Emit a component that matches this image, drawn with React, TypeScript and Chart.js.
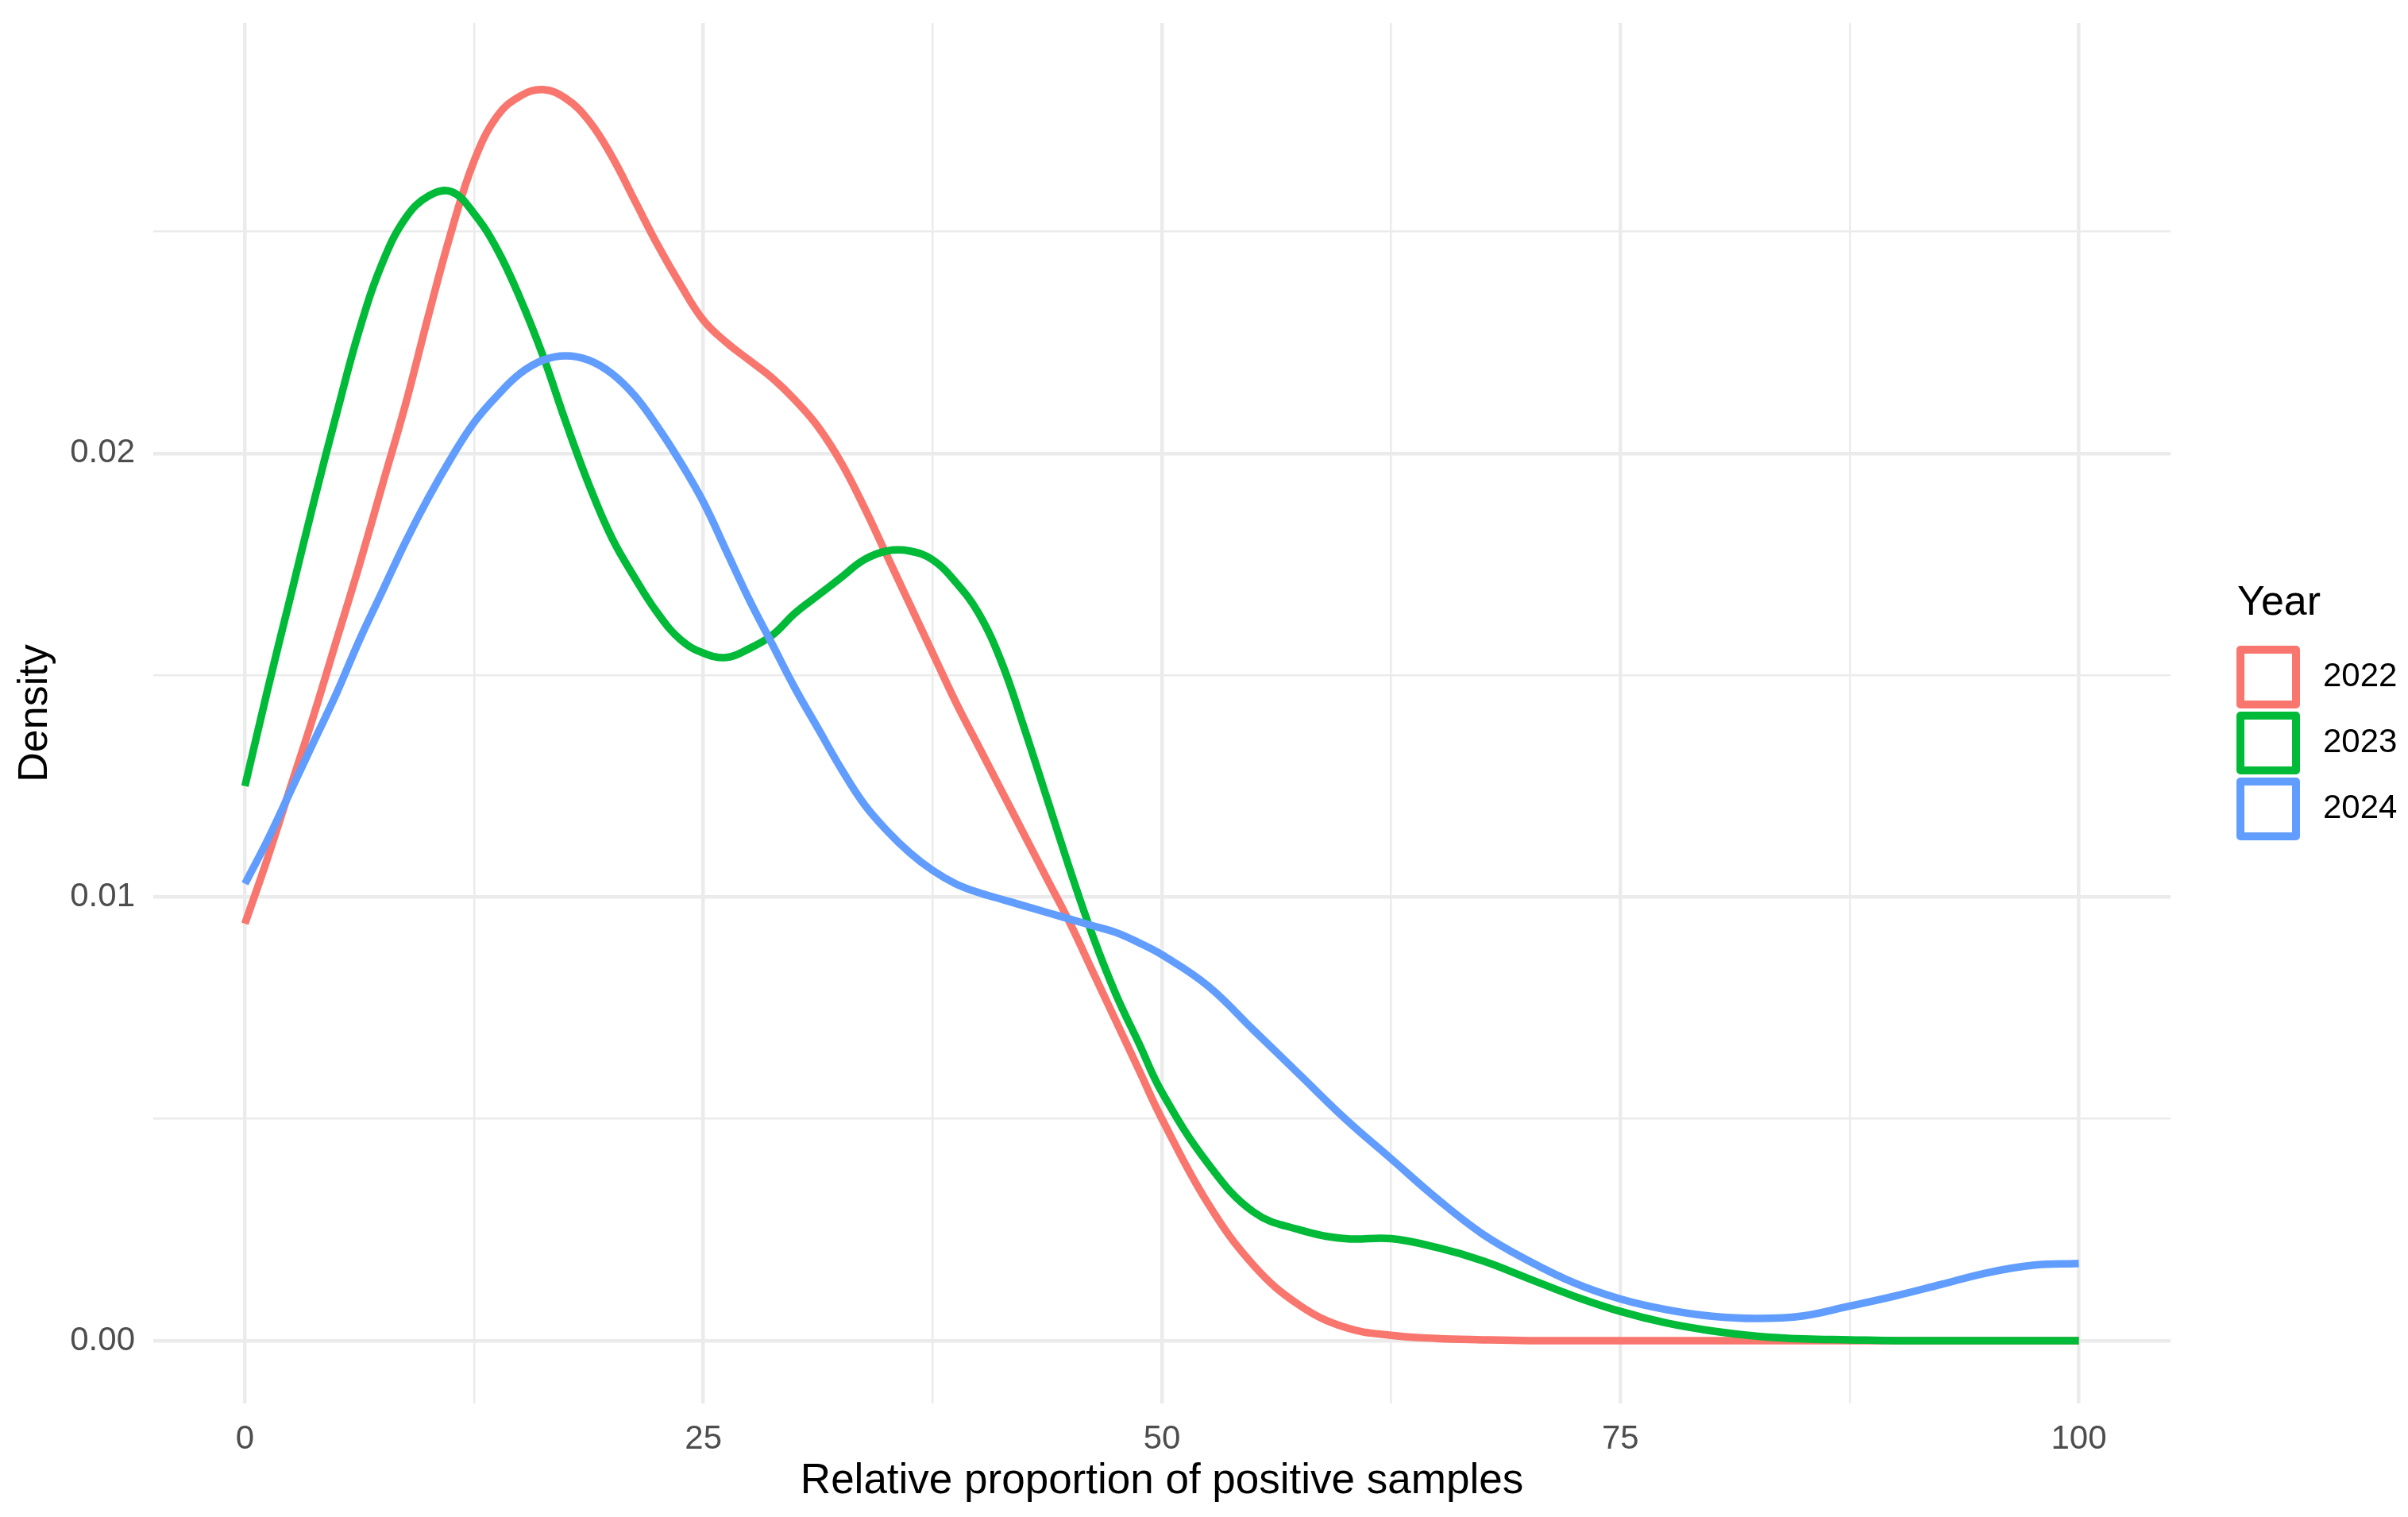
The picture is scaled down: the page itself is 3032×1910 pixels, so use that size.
import { useEffect, useRef } from "react"
import { Chart, registerables } from "chart.js"

Chart.register(...registerables)

// x positions (relative proportion of positive samples, %): finer steps where the curves bend most
const X_VALUES = [
  0, 1.25, 2.5, 3.75, 5, 6.25, 7.5, 8.75, 10, 11.25, 12.5, 13.75, 15, 16.25, 17.5, 18.75, 20, 21.25, 22.5,
  23.75, 25, 26.25, 27.5, 28.75, 30, 31.25, 32.5, 33.75, 35, 36.25, 37.5, 38.75, 40, 41.25, 42.5, 43.75,
  45, 46.25, 47.5, 48.75, 50,
  52.5, 55, 57.5, 60, 62.5, 65, 67.5, 70, 72.5, 75, 77.5, 80, 82.5, 85, 87.5, 90, 92.5, 95, 97.5, 100,
]

// density values
const DENSITY_2022 = [
  0.0094, 0.0109, 0.0125, 0.0141, 0.0158, 0.0175, 0.0193, 0.0211, 0.0231, 0.025, 0.0266, 0.0276, 0.02805,
  0.0282, 0.028, 0.0275, 0.0267, 0.0257, 0.0247, 0.0238, 0.023, 0.0225, 0.0221, 0.0217, 0.0212, 0.0206,
  0.0198, 0.0188, 0.0177, 0.0166, 0.0155, 0.0144, 0.0134, 0.0124, 0.0114, 0.0104, 0.0094, 0.0083, 0.0072,
  0.0061, 0.005,
  0.0031, 0.0017, 0.0008, 0.0003, 0.00012, 0.00005, 0.00002, 0, 0, 0, 0, 0, 0, 0, 0, 0, 0, 0, 0, 0,
]
const DENSITY_2023 = [
  0.0125, 0.0147, 0.0168, 0.0189, 0.0209, 0.0228, 0.0243, 0.0253, 0.0258, 0.0259, 0.0254, 0.0246, 0.0235,
  0.0222, 0.0207, 0.0193, 0.0181, 0.0172, 0.0164, 0.0158, 0.0155, 0.0154, 0.0156, 0.0159, 0.0164, 0.0168,
  0.0172, 0.0176, 0.0178, 0.0178, 0.0176, 0.0171, 0.0164, 0.0153, 0.0138, 0.0122, 0.0106, 0.0091, 0.0078,
  0.0067, 0.0056,
  0.004, 0.0029, 0.0025, 0.0023, 0.0023, 0.0021, 0.0018, 0.0014, 0.001, 0.00066, 0.0004, 0.00022, 0.0001,
  0.00004, 0.00002, 0, 0, 0, 0, 0,
]
const DENSITY_2024 = [
  0.0103, 0.0113, 0.0124, 0.0135, 0.0146, 0.0158, 0.0169, 0.018, 0.019, 0.0199, 0.0207, 0.0213, 0.0218,
  0.0221, 0.0222, 0.0221, 0.0218, 0.0213, 0.0206, 0.0198, 0.0189, 0.0178, 0.0167, 0.0157, 0.0147, 0.0138,
  0.0129, 0.0121, 0.0115, 0.011, 0.0106, 0.0103, 0.0101, 0.00995, 0.0098, 0.00965, 0.0095, 0.00935, 0.0092,
  0.00897, 0.0087,
  0.008, 0.007, 0.006, 0.005, 0.0041, 0.0032, 0.0024, 0.0018, 0.0013, 0.00094, 0.0007, 0.00055, 0.0005,
  0.00056, 0.00078, 0.00101, 0.00127, 0.00153, 0.0017, 0.00174,
]

const YEARS = ["2022", "2023", "2024"]
const COLORS = ["#F8766D", "#00BA38", "#619CFF"]

const X_GRID = [0, 12.5, 25, 37.5, 50, 62.5, 75, 87.5, 100]
const X_MAJOR = [0, 25, 50, 75, 100]
const X_TICK_LABELS = ["0", "25", "50", "75", "100"]
const Y_GRID = [0, 0.005, 0.01, 0.015, 0.02, 0.025]
const Y_MAJOR = [0, 0.01, 0.02]
const Y_TICK_LABELS = ["0.00", "0.01", "0.02"]

const FONT = "'Liberation Sans', Arial, sans-serif"

function majorIndex(list: number[], v: number) {
  return list.findIndex((m) => Math.abs(m - v) < 1e-9)
}

const legendPlugin = {
  id: "yearLegend",
  afterDraw(chart: Chart) {
    const { ctx, chartArea } = chart
    const left = chartArea.right + 84
    const mid = (chartArea.top + chartArea.bottom) / 2
    ctx.save()
    ctx.fillStyle = "#000000"
    ctx.textBaseline = "middle"
    ctx.textAlign = "left"
    ctx.font = `52px ${FONT}`
    ctx.fillText("Year", left, mid - 138)
    const keyTop = mid - 87
    const keySize = 83
    chart.data.datasets.forEach((ds, i) => {
      const top = keyTop + i * keySize
      ctx.strokeStyle = ds.borderColor as string
      ctx.lineWidth = 10
      ctx.lineJoin = "round"
      ctx.strokeRect(left + 4, top + 7, 70, 69)
      ctx.fillStyle = "#000000"
      ctx.font = `42px ${FONT}`
      ctx.fillText(ds.label as string, left + 108, top + keySize / 2)
    })
    ctx.restore()
  },
}

export default function App() {
  const chartRef = useRef<HTMLCanvasElement>(null)
  const chartInstance = useRef<Chart | null>(null)

  useEffect(() => {
    document.body.style.margin = "0"
    if (chartRef.current) {
      if (chartInstance.current) {
        chartInstance.current.destroy()
      }
      const ctx = chartRef.current.getContext("2d")
      if (ctx) {
        const series = [DENSITY_2022, DENSITY_2023, DENSITY_2024]
        chartInstance.current = new Chart(ctx, {
          type: "line",
          data: {
            datasets: series.map((values, i) => ({
              label: YEARS[i],
              data: X_VALUES.map((x, j) => ({ x, y: values[j] })),
              borderColor: COLORS[i],
              backgroundColor: COLORS[i],
              borderWidth: 9.5,
              borderCapStyle: "butt",
              borderJoinStyle: "round",
              pointRadius: 0,
              tension: 0.4,
              fill: false,
              order: 2 - i,
            })),
          },
          options: {
            animation: false,
            responsive: true,
            maintainAspectRatio: false,
            layout: { padding: { top: 29, right: 299, bottom: 0, left: 0 } },
            plugins: {
              legend: { display: false },
              tooltip: { enabled: false },
            },
            scales: {
              x: {
                type: "linear",
                min: -5,
                max: 105,
                afterBuildTicks: (scale) => {
                  scale.ticks = X_GRID.map((value) => ({ value }))
                },
                afterFit: (scale) => {
                  scale.height = 143
                },
                border: { display: false },
                grid: {
                  color: "#EBEBEB",
                  drawTicks: false,
                  lineWidth: (c) => (majorIndex(X_MAJOR, c.tick?.value ?? -1) >= 0 ? 4.5 : 2.5),
                },
                ticks: {
                  autoSkip: false,
                  maxRotation: 0,
                  padding: 20,
                  color: "#4D4D4D",
                  font: { family: FONT, size: 42 },
                  callback: (v) => {
                    const k = majorIndex(X_MAJOR, Number(v))
                    return k >= 0 ? X_TICK_LABELS[k] : ""
                  },
                },
                title: {
                  display: true,
                  text: "Relative proportion of positive samples",
                  color: "#000000",
                  font: { family: FONT, size: 53 },
                  padding: { top: 0, bottom: 13 },
                },
              },
              y: {
                type: "linear",
                min: -0.001414,
                max: 0.0297,
                afterBuildTicks: (scale) => {
                  scale.ticks = Y_GRID.map((value) => ({ value }))
                },
                afterFit: (scale) => {
                  scale.width = 193
                  scale.paddingTop = 0
                  scale.paddingBottom = 0
                },
                border: { display: false },
                grid: {
                  color: "#EBEBEB",
                  drawTicks: false,
                  lineWidth: (c) => (majorIndex(Y_MAJOR, c.tick?.value ?? -1) >= 0 ? 4.5 : 2.5),
                },
                ticks: {
                  autoSkip: false,
                  padding: 23,
                  color: "#4D4D4D",
                  font: { family: FONT, size: 42 },
                  callback: (v) => {
                    const k = majorIndex(Y_MAJOR, Number(v))
                    return k >= 0 ? Y_TICK_LABELS[k] : ""
                  },
                },
                title: {
                  display: true,
                  text: "Density",
                  color: "#000000",
                  font: { family: FONT, size: 52 },
                  padding: { top: 13, bottom: 0 },
                },
              },
            },
          },
          plugins: [legendPlugin],
        })
      }
    }

    return () => {
      if (chartInstance.current) {
        chartInstance.current.destroy()
        chartInstance.current = null
      }
    }
  }, [])

  return (
    <div style={{ position: "relative", width: 3032, height: 1910, background: "#FFFFFF" }}>
      <canvas ref={chartRef} />
    </div>
  )
}
